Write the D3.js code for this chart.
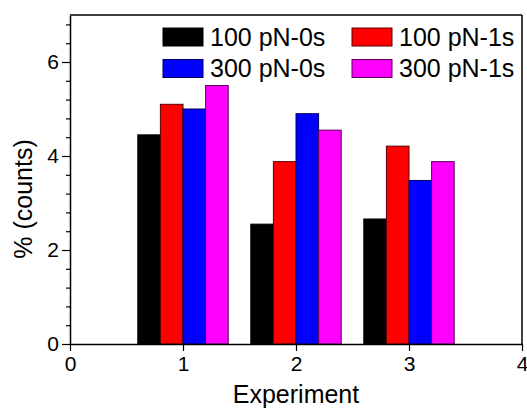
<!DOCTYPE html>
<html>
<head>
<meta charset="utf-8">
<script src="https://cdn.jsdelivr.net/npm/d3@7"></script>
<style>
  body { margin: 0; background: #fff; }
  text { font-family: "Liberation Sans", Arial, sans-serif; fill: #000; }
</style>
</head>
<body>
<script>
var experiments = [1, 2, 3]
var seriesNames = ["100 pN-0s", "100 pN-1s", "300 pN-0s", "300 pN-1s"]
var seriesColors = ["#000000", "#ff0000", "#0000ff", "#ff00ff"]
var seriesStroke = ["#000000", "#5a0000", "#00005a", "#5a005a"]
var pn100_0s = [4.45, 2.55, 2.66]
var pn100_1s = [5.10, 3.88, 4.21]
var pn300_0s = [5.00, 4.90, 3.48]
var pn300_1s = [5.50, 4.55, 3.88]
var xTicks = [0, 1, 2, 3, 4]
var yTicks = [0, 2, 4, 6]

var allSeries = [pn100_0s, pn100_1s, pn300_0s, pn300_1s]

var width = 527
var height = 408
var padL = 70, padR = 522, padT = 15, padB = 344
var barW = 0.2

var xScale = d3.scaleLinear().domain([0, 4]).range([padL, padR])
var yScale = d3.scaleLinear().domain([0, 7]).range([padB, padT])

var svg = d3.select("body")
            .append("svg")
            .attr("width", width)
            .attr("height", height)

// bars
allSeries.forEach(function(vals, s) {
  svg.append("g")
     .selectAll("rect")
     .data(vals)
     .enter()
     .append("rect")
     .attr("x", function(d, i) { return xScale(experiments[i] - 0.4 + s * barW) })
     .attr("y", function(d) { return yScale(d) })
     .attr("width", xScale(barW) - xScale(0))
     .attr("height", function(d) { return yScale(0) - yScale(d) })
     .attr("fill", seriesColors[s])
     .attr("stroke", seriesStroke[s])
     .attr("stroke-width", 1)
})

// frame
svg.append("line").attr("x1", padL).attr("x2", padR).attr("y1", padT).attr("y2", padT)
   .attr("stroke", "#000").attr("stroke-width", 1.5)
svg.append("line").attr("x1", padR).attr("x2", padR).attr("y1", padT).attr("y2", padB)
   .attr("stroke", "#000").attr("stroke-width", 1.5)

// x axis
var xAxis = d3.axisBottom(xScale).tickValues(xTicks).tickSize(7).tickSizeOuter(0)
              .tickPadding(5).tickFormat(d3.format("d"))
var gx = svg.append("g").attr("transform", "translate(0," + padB + ")").call(xAxis)
gx.selectAll("text").attr("font-size", 21)

// y axis minor
var minor = d3.range(0, 7.01, 0.4).filter(function(v) { return Math.abs(v / 2 - Math.round(v / 2)) > 0.01 })
var gyMinor = svg.append("g").attr("transform", "translate(" + padL + ",0)")
   .call(d3.axisLeft(yScale).tickValues(minor).tickSize(4).tickSizeOuter(0).tickFormat(""))
gyMinor.select(".domain").remove()

// y axis
var yAxis = d3.axisLeft(yScale).tickValues(yTicks).tickSize(8).tickSizeOuter(0)
              .tickPadding(3).tickFormat(d3.format("d"))
var gy = svg.append("g").attr("transform", "translate(" + padL + ",0)").call(yAxis)
gy.selectAll("text").attr("font-size", 21)

svg.selectAll(".domain").attr("stroke-width", 1.5)
svg.selectAll(".tick line").attr("stroke-width", 1.2)

// axis titles
svg.append("text")
   .attr("x", (padL + padR) / 2)
   .attr("y", 403)
   .attr("text-anchor", "middle")
   .attr("font-size", 25)
   .text("Experiment")

svg.append("text")
   .attr("transform", "translate(32," + 199 + ") rotate(-90)")
   .attr("text-anchor", "middle")
   .attr("font-size", 25)
   .text("% (counts)")

// legend
var legendPos = [[163, 28], [352, 28], [163, 59.5], [352, 59.5]]
seriesNames.forEach(function(name, s) {
  var p = legendPos[s]
  svg.append("rect")
     .attr("x", p[0]).attr("y", p[1])
     .attr("width", 40).attr("height", 18)
     .attr("fill", seriesColors[s])
     .attr("stroke", seriesStroke[s])
     .attr("stroke-width", 1)
  svg.append("text")
     .attr("x", p[0] + 47)
     .attr("y", p[1] + 17.5)
     .attr("font-size", 25)
     .text(name)
})
</script>
</body>
</html>
